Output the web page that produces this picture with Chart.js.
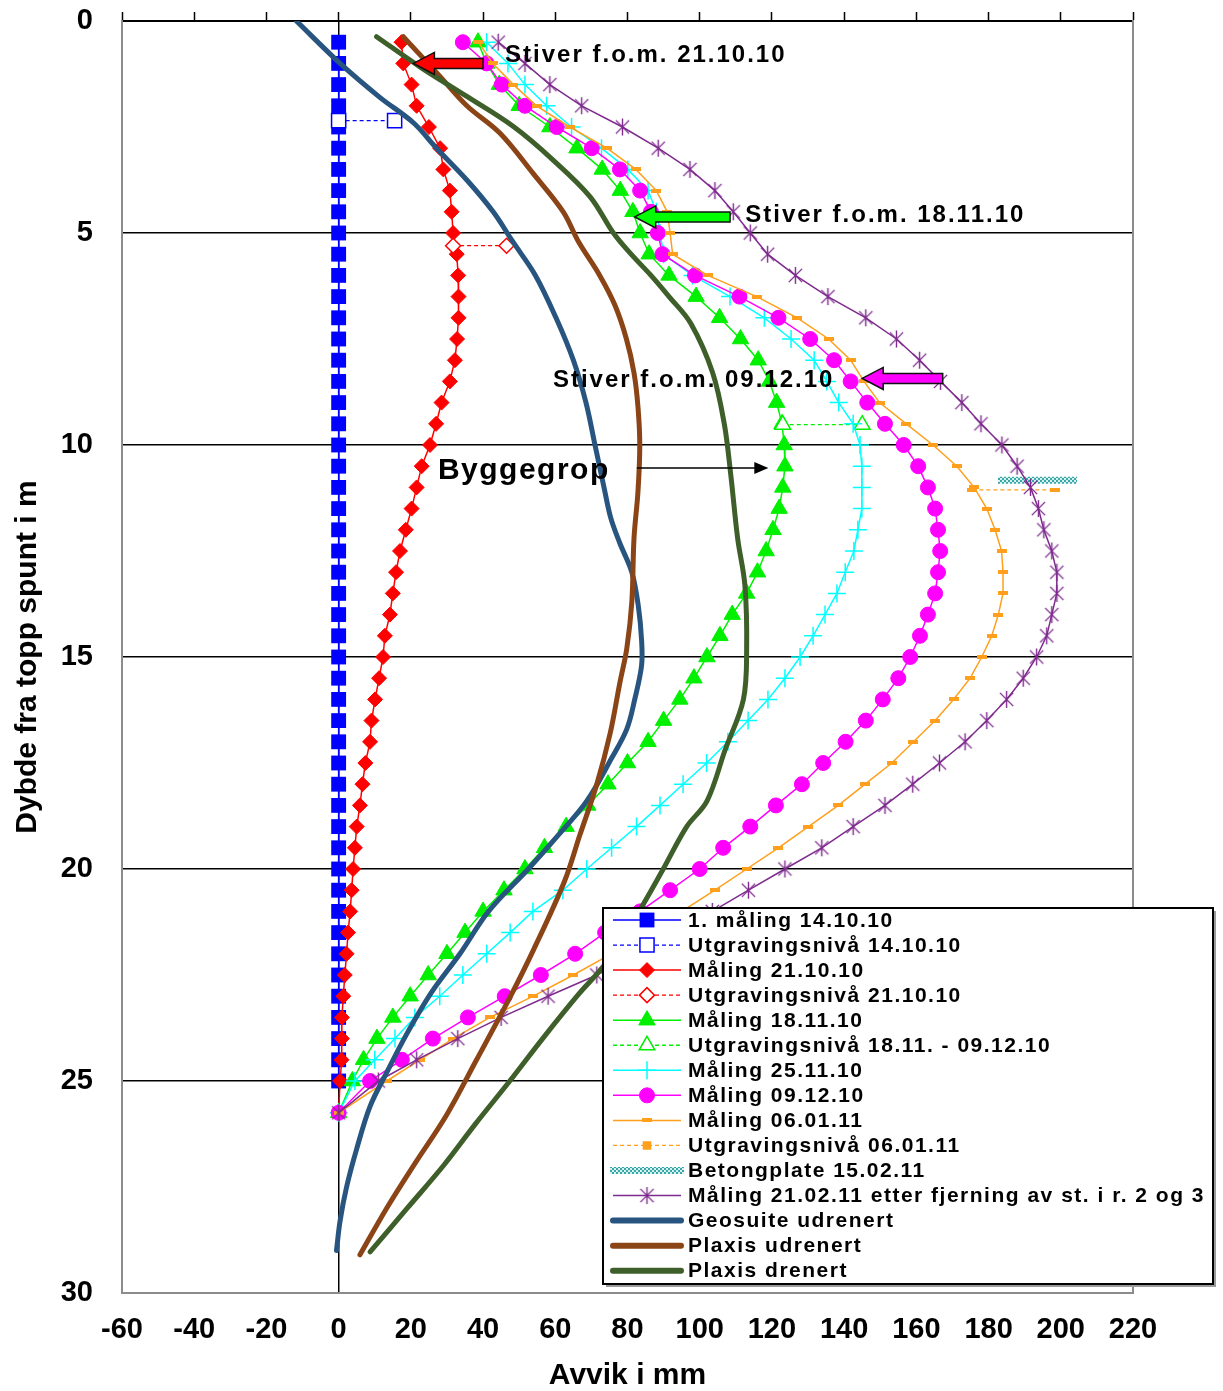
<!DOCTYPE html>
<html>
<head>
<meta charset="utf-8">
<script src="https://cdn.jsdelivr.net/npm/chart.js@4/dist/chart.umd.min.js"></script>
<style>
  html, body { margin: 0; padding: 0; background: #fff; }
  canvas { display: block; }
</style>
</head>
<body>
<canvas id="chart" width="1223" height="1391"></canvas>
<script>
// ---------- Data: deflection (mm) against depth below top of sheet pile (m) ----------
const depthM = [0.5,1,1.5,2,2.5,3,3.5,4,4.5,5,5.5,6,6.5,7,7.5,8,8.5,9,9.5,10,
  10.5,11,11.5,12,12.5,13,13.5,14,14.5,15,15.5,16,16.5,17,17.5,18,18.5,19,19.5,20,
  20.5,21,21.5,22,22.5,23,23.5,24,24.5,25,25.75];
const depth1410 = depthM.slice(0, 50);

const maal1410 = [0,0,0,0,0,0,0,0,0,0, 0,0,0,0,0,0,0,0,0,0, 0,0,0,0,0,0,0,0,0,0,
  0,0,0,0,0,0,0,0,0,0, 0,0,0,0,0,0,0,0,0,0];
const maal2110 = [17.4,17.9,20.2,21.6,25.0,28.1,29.0,30.8,31.3,31.7, 32.7,33.1,33.2,33.2,32.8,32.2,30.8,28.5,27.0,25.3,
  23.0,21.6,20.2,18.6,17.0,15.9,15.0,14.2,12.8,12.3, 11.2,10.1,9.1,8.7,7.4,6.6,5.9,5.0,4.5,4.0,
  3.6,3.2,2.6,2.2,1.7,1.3,0.9,0.9,0.8,0.4, 0];
const maal1811 = [38.6,41,44.5,50,58.5,66,73,78,81.5,83.5, 86,91.5,99,105.5,111.3,116.2,119.3,121.3,122.8,123.4,
  123.6,123,122,120.3,118.4,116,113,109,105.6,102, 98.4,94.5,90,85.7,80,74.6,69,63,57,51.6,
  45.8,40,35,30,24.8,19.8,15,10.6,6.9,3.8, 0];
const maal2511 = [41,46.9,51.6,57.6,64.5,72.8,80.1,85.7,88,89, 90,98,108.4,117.9,125.3,131.7,135.2,138.5,142.5,144.4,
  144.9,144.9,144.9,143.8,142.7,140.3,138,134.7,131.4,127.8, 123.6,118.9,113.4,107.8,101.9,95.4,89,82.5,75.6,68.7,
  62.1,53.8,47.5,41,34.4,28,21.1,15.6,10,4.5, 0];
const maal0912 = [34.4,41,45.2,51.6,60.4,70.1,77.9,83.5,86.5,88.4, 89.7,98.7,111,121.8,130.6,137.2,141.8,146.4,151.3,156.5,
  160.5,163.2,165.2,166,166.6,166,165.2,163.2,161,158.3, 155,150.7,146,140.4,134.2,128.3,121.1,114,106.5,100,
  91.8,83.5,73.8,65.5,56,46,35.8,26.1,17.5,8.7, 0];
const maal0601 = [38.7,42.7,48.4,54.8,64,74.3,82.3,88,91,91.8, 92.5,102.2,115.8,127,135.7,141.8,145.5,149.8,157.2,164.6,
  171.2,176,179.5,181.8,183.6,184,184,182.7,180.9,178.1, 174.9,170.3,165.2,159.2,153.2,145.8,138.4,130.1,121.8,113,
  104.2,95,85.5,75.5,65,53.9,41.9,31.7,22.5,13.3, 0];
const maal2102 = [44.2,51.6,58.5,67.3,78.6,88.5,97.3,104.2,109.3,114, 118.8,126.5,135.5,146,154.5,160.9,166.7,172.6,177.9,183.7,
  187.9,191.6,193.8,195.3,197.5,198.9,198.9,197.5,196.1,193.3, 189.6,185,179.5,173.5,166.4,159,151.3,142.5,133.8,123.6,
  113.5,103.5,93,82.5,71.5,58,45,33,21.6,11, 0];

// excavation levels and concrete slab (two ends each)
const utg1410Disp = [0, 15.5],     utg1410Depth = [2.35, 2.35];
const utg2110Disp = [31.7, 46.5],  utg2110Depth = [5.3, 5.3];
const utg1811Disp = [123, 145],    utg1811Depth = [9.52, 9.52];
const utg0601Disp = [175.5, 198.5], utg0601Depth = [11.06, 11.06];
const betongDisp  = [182.6, 204.5], betongDepth  = [10.83, 10.83];

// calculated curves
const geoDepth = [0,1,1.8,2.4,3,3.75,4.5,5.2,6,7, 8,9,10,11,11.7,12.3,13,13.8,14.6,15.2,
  16,16.7,17.4,18.4,19.3,20,21,22,22.9,23.9, 24.8,25.6,26.6,27.5,28.3,29];
const geoDisp  = [-11.7,0.4,11.4,20.7,27.1,35.5,42.8,48.2,54.5,60.2, 65,68.5,71,73.5,75.3,77.8,81.2,83,83.9,83.9,
  82,79.8,75.5,68.7,59.8,52.5,41.5,33.6,25.8,18.8, 13.3,8.7,5,2.2,0.4,-0.6];
const pluDepth = [0.37,1.3,2,2.65,3.6,4.5,5.2,6,6.7,7.5, 8.3,9.1,10,11.1,12.2,13.7,14.8,15.6,16.8,18,
  19.2,20.3,21.9,23.1,24.5,25.8,27,28,29.1];
const pluDisp  = [17.9,28,35.5,44.7,53.9,62.2,66.4,72.3,76.5,79.7, 81.8,82.9,83.4,82.9,81.8,81.2,79.8,77.9,75.2,71.5,
  66.8,62.5,54,47,38.2,29.9,20.7,13.3,5.9];
const pldDepth = [0.37,1.08,1.78,2.49,3.28,4.14,5,5.5,6,6.5, 7.13,8.3,9.5,10.7,12.2,13.3,14.8,16,17.2,18.4,
  19,20,21.1,22.2,23,24,25,26,27,28, 29.03];
const pldDisp  = [10.5,22.5,35.5,48.4,59.4,69.6,76.1,81,86.5,91.5, 97.5,103.6,106.8,108.6,110.5,112.5,113,112.1,107,102,
  96.4,89.9,82.5,74.2,66,56.5,47.4,38,29,19, 8.7];

// axis ticks
const xTicksMin = -60, xTicksMax = 220, xTickStep = 20;
const yTicksMin = 0, yTicksMax = 30, yTickStep = 5;

// ---------- Styling helpers ----------
const FONT = '"Liberation Sans", Arial, Helvetica, sans-serif';
Chart.defaults.font.family = FONT;
Chart.defaults.color = '#000';

const pts = (xs, ys) => xs.map((v, i) => ({ x: v, y: ys[i] }));

function dashMarker(color, w, h) {
  const c = document.createElement('canvas');
  c.width = w; c.height = h;
  const g = c.getContext('2d');
  g.fillStyle = color; g.fillRect(0, 0, w, h);
  return c;
}
function starMarker(color, size, lw) {
  const c = document.createElement('canvas');
  c.width = size; c.height = size;
  const g = c.getContext('2d');
  const m = size / 2, r = size / 2 - 1, d = r * 0.78;
  g.strokeStyle = color; g.lineWidth = lw; g.lineCap = 'butt';
  g.beginPath();
  g.moveTo(m, m - r); g.lineTo(m, m + r);
  g.moveTo(m - d, m - d); g.lineTo(m + d, m + d);
  g.moveTo(m + d, m - d); g.lineTo(m - d, m + d);
  g.stroke();
  return c;
}
function dotPattern(color) {
  const c = document.createElement('canvas');
  c.width = 4; c.height = 4;
  const g = c.getContext('2d');
  g.fillStyle = '#d8f0f0'; g.fillRect(0, 0, 4, 4);
  g.fillStyle = color;
  g.fillRect(0, 0, 2, 2); g.fillRect(2, 2, 2, 2);
  return g.createPattern(c, 'repeat');
}

const ORANGE = '#FF9F1C', PURPLE = '#7E2A8E';
const orangeDash = dashMarker(ORANGE, 10, 4);
const purpleStar = starMarker(PURPLE, 19, 1.4);
const betongFill = dotPattern('#3AA7A7');

function measured(label, xs, ys, color, style, radius, extra) {
  return Object.assign({
    label, data: pts(xs, ys), showLine: true,
    borderColor: color, borderWidth: 1.5, tension: 0,
    pointStyle: style, pointRadius: radius, pointHoverRadius: radius,
    pointBackgroundColor: color, pointBorderColor: color, pointBorderWidth: 1
  }, extra || {});
}
function level(label, xs, ys, color, style, radius, extra) {
  return Object.assign({
    label, data: pts(xs, ys), showLine: true,
    borderColor: color, borderWidth: 1.3, borderDash: [4, 3], tension: 0,
    pointStyle: style, pointRadius: radius, pointHoverRadius: radius,
    pointBackgroundColor: '#fff', pointBorderColor: color, pointBorderWidth: 1.5
  }, extra || {});
}
function model(label, xs, ys, color) {
  return {
    label, data: pts(xs, ys), showLine: true,
    borderColor: color, borderWidth: 5, tension: 0.35,
    borderCapStyle: 'round', borderJoinStyle: 'round',
    pointRadius: 0, pointHoverRadius: 0, isModel: true
  };
}

const datasets = [
  measured('1. måling 14.10.10', maal1410, depth1410, '#0000FF', 'rect', 10.5, { pointBorderWidth: 0 }),
  level('Utgravingsnivå 14.10.10', utg1410Disp, utg1410Depth, '#0000FF', 'rect', 10),
  measured('Måling 21.10.10', maal2110, depthM, '#FF0000', 'rectRot', 7.5),
  level('Utgravingsnivå 21.10.10', utg2110Disp, utg2110Depth, '#FF0000', 'rectRot', 7.5),
  measured('Måling 18.11.10', maal1811, depthM, '#00F000', 'triangle', 9.5),
  level('Utgravingsnivå 18.11. - 09.12.10', utg1811Disp, utg1811Depth, '#00F000', 'triangle', 9),
  measured('Måling 25.11.10', maal2511, depthM, '#00FFFF', 'cross', 9, { pointBorderWidth: 1.5 }),
  measured('Måling 09.12.10', maal0912, depthM, '#FF00FF', 'circle', 7.5),
  measured('Måling 06.01.11', maal0601, depthM, ORANGE, orangeDash, 5),
  level('Utgravingsnivå 06.01.11', utg0601Disp, utg0601Depth, ORANGE, orangeDash, 5, { legendPoint: 'rect', legendRadius: 5 }),
  { label: 'Betongplate 15.02.11', data: pts(betongDisp, betongDepth), showLine: true,
    borderColor: betongFill, borderWidth: 7, borderCapStyle: 'butt', pointRadius: 0, pointHoverRadius: 0, isBand: true },
  measured('Måling 21.02.11 etter fjerning av st. i r. 2 og 3', maal2102, depthM, PURPLE, purpleStar, 9),
  model('Geosuite udrenert', geoDisp, geoDepth, '#28557F'),
  model('Plaxis udrenert', pluDisp, pluDepth, '#8A4416'),
  model('Plaxis drenert', pldDisp, pldDepth, '#3E5F2A')
];
// later series are painted on top of earlier ones
datasets.forEach((d, i) => { d.order = datasets.length - i; });

// ---------- Annotations (data units) ----------
const stiverArrows = [
  { tip: 20.7, tail: 40, depth: 1.0, color: '#FF0000' },
  { tip: 82.0, tail: 108.4, depth: 4.62, color: '#00FF00' },
  { tip: 145.0, tail: 167.3, depth: 8.43, color: '#FF00FF' }
];
const stiverNotes = [
  { text: 'Stiver f.o.m. 21.10.10', x: 46.1, depth: 0.8, align: 'left' },
  { text: 'Stiver f.o.m. 18.11.10', x: 112.6, depth: 4.58, align: 'left' },
  { text: 'Stiver f.o.m. 09.12.10', x: 137.3, depth: 8.47, align: 'right' }
];
const pitNote = { text: 'Byggegrop', x: 27.5, depth: 10.6, arrowFrom: 82.6, arrowTo: 119.0, arrowDepth: 10.54 };

function blockArrow(ctx, xTip, xTail, y, color) {
  const hl = 21, hh = 11, sh = 5;
  const dir = xTail > xTip ? 1 : -1;
  ctx.beginPath();
  ctx.moveTo(xTip, y);
  ctx.lineTo(xTip + dir * hl, y - hh);
  ctx.lineTo(xTip + dir * hl, y - sh);
  ctx.lineTo(xTail, y - sh);
  ctx.lineTo(xTail, y + sh);
  ctx.lineTo(xTip + dir * hl, y + sh);
  ctx.lineTo(xTip + dir * hl, y + hh);
  ctx.closePath();
  ctx.fillStyle = color; ctx.fill();
  ctx.lineWidth = 1.5; ctx.strokeStyle = '#111'; ctx.stroke();
}
function boldText(ctx, text, x, y, size, align, spacing) {
  ctx.font = 'bold ' + size + 'px ' + FONT;
  if ('letterSpacing' in ctx) ctx.letterSpacing = spacing + 'px';
  ctx.textAlign = align; ctx.textBaseline = 'middle';
  ctx.fillStyle = '#000';
  ctx.fillText(text, x, y);
  if ('letterSpacing' in ctx) ctx.letterSpacing = '0px';
}

const annotationsPlugin = {
  id: 'stiverNotes',
  afterDatasetsDraw(chart) {
    const { ctx } = chart;
    const xs = chart.scales.x, ys = chart.scales.y;
    ctx.save();
    stiverArrows.forEach(a => blockArrow(ctx, xs.getPixelForValue(a.tip), xs.getPixelForValue(a.tail), ys.getPixelForValue(a.depth), a.color));
    stiverNotes.forEach(n => boldText(ctx, n.text, xs.getPixelForValue(n.x), ys.getPixelForValue(n.depth), 24, n.align, 2));
    boldText(ctx, pitNote.text, xs.getPixelForValue(pitNote.x), ys.getPixelForValue(pitNote.depth), 30, 'left', 1.5);
    const ax0 = xs.getPixelForValue(pitNote.arrowFrom), ax1 = xs.getPixelForValue(pitNote.arrowTo), ay = ys.getPixelForValue(pitNote.arrowDepth);
    ctx.strokeStyle = '#000'; ctx.lineWidth = 1.5;
    ctx.beginPath(); ctx.moveTo(ax0, ay); ctx.lineTo(ax1 - 10, ay); ctx.stroke();
    ctx.fillStyle = '#000';
    ctx.beginPath(); ctx.moveTo(ax1, ay); ctx.lineTo(ax1 - 14, ay - 6); ctx.lineTo(ax1 - 14, ay + 6); ctx.closePath(); ctx.fill();
    ctx.restore();
  }
};

// ---------- Legend box ----------
const legendBox = { left: 603, top: 908, width: 610, height: 376, firstRow: 920, rowStep: 25.05, lineFrom: 613, lineTo: 681, textX: 688 };

function legendMarker(ctx, ds, x, y) {
  const style = ds.legendPoint || ds.pointStyle;
  const r = ds.legendRadius || ds.pointRadius;
  if (!r) return;
  ctx.fillStyle = ds.pointBackgroundColor;
  ctx.strokeStyle = ds.pointBorderColor;
  ctx.lineWidth = ds.pointBorderWidth || 0;
  const opts = { pointStyle: style, rotation: 0, radius: r, borderWidth: ds.pointBorderWidth || 0 };
  if (ds.legendPoint) { ctx.fillStyle = ds.pointBorderColor; }
  Chart.helpers.drawPoint(ctx, opts, x, y);
}

const legendPlugin = {
  id: 'boxLegend',
  afterDraw(chart) {
    const { ctx } = chart;
    const b = legendBox;
    ctx.save();
    ctx.fillStyle = '#9a9a9a';
    ctx.fillRect(b.left + 3, b.top + 3, b.width, b.height);
    ctx.fillStyle = '#fff';
    ctx.fillRect(b.left, b.top, b.width, b.height);
    ctx.strokeStyle = '#000'; ctx.lineWidth = 2;
    ctx.strokeRect(b.left, b.top, b.width, b.height);
    chart.data.datasets.forEach((ds, i) => {
      const y = b.firstRow + i * b.rowStep;
      ctx.save();
      ctx.strokeStyle = ds.borderColor;
      ctx.lineWidth = ds.isModel ? 6 : ds.borderWidth;
      ctx.lineCap = ds.isModel ? 'round' : 'butt';
      ctx.setLineDash(ds.borderDash || []);
      ctx.beginPath();
      const x0 = ds.isBand ? b.lineFrom - 3 : b.lineFrom, x1 = ds.isBand ? b.lineTo + 3 : b.lineTo;
      ctx.moveTo(x0, y); ctx.lineTo(x1, y); ctx.stroke();
      ctx.setLineDash([]);
      legendMarker(ctx, ds, (b.lineFrom + b.lineTo) / 2, y);
      ctx.restore();
      boldText(ctx, ds.label, b.textX, y + 1, 21, 'left', 1.5);
    });
    ctx.restore();
  }
};

// ---------- Chart ----------
const GRAY = '#8c8c8c';
// keep the plot frame fixed: axis boxes get fixed sizes and no extra edge padding
function fixBox(size, horizontal) {
  return s => {
    if (horizontal) s.height = size; else s.width = size;
    s.paddingTop = 0; s.paddingBottom = 0; s.paddingLeft = 0; s.paddingRight = 0;
  };
}
new Chart(document.getElementById('chart'), {
  type: 'scatter',
  data: { datasets },
  options: {
    responsive: false,
    maintainAspectRatio: false,
    devicePixelRatio: 1,
    animation: false,
    events: [],
    layout: { padding: 0 },
    plugins: { legend: { display: false }, tooltip: { enabled: false } },
    scales: {
      x: {
        type: 'linear', position: 'bottom',
        min: xTicksMin, max: xTicksMax,
        ticks: { stepSize: xTickStep, padding: 20, color: '#000', font: { size: 29, weight: 'bold' } },
        grid: {
          drawTicks: false, lineWidth: 1.5,
          color: c => (c.tick && c.tick.value === 0) ? '#000' : 'rgba(0,0,0,0)'
        },
        border: { color: GRAY, width: 2 },
        title: { display: true, text: 'Avvik i mm', color: '#000', font: { size: 30, weight: 'bold', lineHeight: 1 }, padding: { top: 0, bottom: 0 } },
        afterFit: fixBox(98, true)
      },
      x2: {
        type: 'linear', position: 'top',
        min: xTicksMin, max: xTicksMax,
        ticks: { stepSize: xTickStep, display: false },
        grid: { drawTicks: true, tickLength: 9, color: 'rgba(0,0,0,0)', tickColor: '#000', tickWidth: 1.5 },
        border: { color: '#000', width: 2 },
        afterFit: fixBox(21, true)
      },
      y: {
        type: 'linear', position: 'left', reverse: true,
        min: yTicksMin, max: yTicksMax,
        ticks: { stepSize: yTickStep, padding: 29, color: '#000', font: { size: 29, weight: 'bold' } },
        grid: {
          drawTicks: false, lineWidth: 1.5,
          color: c => (c.tick && c.tick.value > yTicksMin && c.tick.value < yTicksMax) ? '#000' : 'rgba(0,0,0,0)'
        },
        border: { color: GRAY, width: 2 },
        title: { display: true, text: 'Dybde fra topp spunt i m', color: '#000', font: { size: 30, weight: 'bold', lineHeight: 1 }, padding: { top: 13, bottom: 0 } },
        afterFit: fixBox(122, false)
      },
      y2: {
        type: 'linear', position: 'right',
        min: yTicksMin, max: yTicksMax,
        ticks: { display: false },
        grid: { display: false, drawTicks: false },
        border: { color: GRAY, width: 2 },
        afterFit: fixBox(90, false)
      }
    }
  },
  plugins: [annotationsPlugin, legendPlugin]
});
</script>
</body>
</html>
